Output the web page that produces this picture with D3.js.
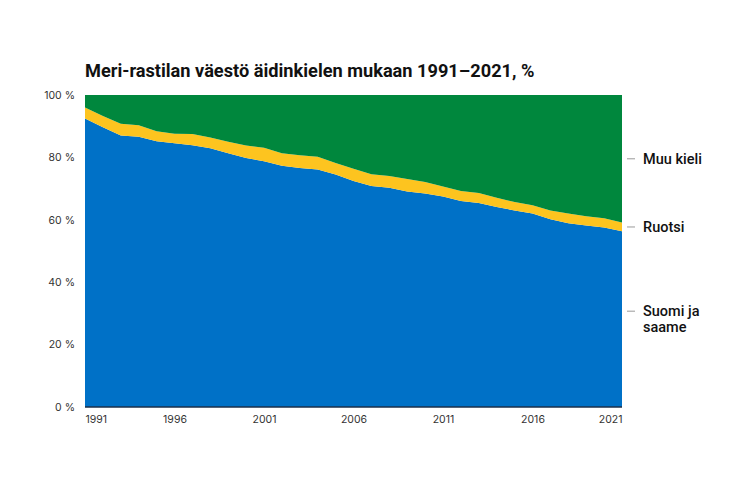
<!DOCTYPE html>
<html>
  <head>
    <meta charset="utf-8">
    <title>Meri-rastilan väestö äidinkielen mukaan</title>
    <script src="https://cdn.jsdelivr.net/npm/d3@7"></script>
    <style>
      body { margin: 0; background: #fff; font-family: "Inter", "Roboto", sans-serif; }
      #chart { display: block; }
      .title { font-family: "Roboto", sans-serif; font-size: 18.2px; font-weight: 700; fill: #111; }
      .axis text { font-size: 10.5px; fill: #333; font-family: "Inter", sans-serif; }
      .axis path, .axis line { display: none; }
      .baseline { stroke: #1b2f4a; stroke-width: 1.5; }
      .label text { font-family: "Roboto", sans-serif; font-size: 14.5px; font-weight: 500; fill: #111; }
      .label line { stroke: #999; stroke-width: 1; }
    </style>
  </head>

  <body>
    <svg id="chart" width="735" height="490"></svg>

    <script>
      // data (% of population)
      years = d3.range(1991, 2022);
      suomi = [92.5, 89.7, 87.0, 86.6, 85.2, 84.5, 83.9, 82.9, 81.3, 79.8,
               78.8, 77.3, 76.6, 76.1, 74.5, 72.4, 70.8, 70.3, 69.1, 68.4,
               67.5, 66.0, 65.4, 64.1, 63.0, 62.0, 60.2, 58.9, 58.2, 57.5, 56.3];
      ruotsi = [3.5, 3.6, 3.8, 3.7, 3.2, 3.1, 3.6, 3.5, 3.7, 4.0,
                4.3, 4.0, 4.1, 4.1, 3.7, 4.0, 3.8, 3.7, 4.0, 3.7,
                3.2, 3.2, 3.2, 3.0, 2.7, 2.7, 2.8, 3.1, 2.9, 3.0, 2.8];
      muu = [4.0, 6.7, 9.2, 9.7, 11.6, 12.4, 12.5, 13.6, 15.0, 16.2,
             16.9, 18.7, 19.3, 19.8, 21.8, 23.6, 25.4, 26.0, 26.9, 27.9,
             29.3, 30.8, 31.4, 32.9, 34.3, 35.3, 37.0, 38.0, 38.9, 39.5, 40.9];

      keys = ["suomi", "ruotsi", "muu"];
      labels = {
        suomi: ["Suomi ja", "saame"],
        ruotsi: ["Ruotsi"],
        muu: ["Muu kieli"]
      };
      colours = {
        suomi: "#0071c7",
        ruotsi: "#fdc41f",
        muu: "#00873d"
      };
      xTicks = [1991, 1996, 2001, 2006, 2011, 2016, 2021];
      yTicks = [0, 20, 40, 60, 80, 100];

      rows = years.map((year, i) => {
        return { year: year, suomi: suomi[i], ruotsi: ruotsi[i], muu: muu[i] };
      });

      // dimensions
      width = 735;
      height = 490;
      margin = { top: 95, right: 113, bottom: 83, left: 85 };
      lineHeight = 16;

      chart = d3.select("#chart");

      x = d3.scaleLinear()
        .domain(d3.extent(years))
        .range([margin.left, width - margin.right]);
      y = d3.scaleLinear()
        .domain([0, 100])
        .range([height - margin.bottom, margin.top]);

      series = d3.stack()
        .keys(keys)(rows);

      area = d3.area()
        .x(d => x(d.data.year))
        .y0(d => y(d[0]))
        .y1(d => y(d[1]));

      // title
      chart.append("text")
        .attr("class", "title")
        .attr("x", margin.left)
        .attr("y", 77)
        .text("Meri-rastilan väestö äidinkielen mukaan 1991–2021, %");

      // areas
      chart.append("g")
        .selectAll("path")
          .data(series)
        .enter().append("path")
          .attr("fill", d => colours[d.key])
          .attr("d", area);

      // baseline
      chart.append("line")
        .attr("class", "baseline")
        .attr("x1", margin.left)
        .attr("x2", width - margin.right)
        .attr("y1", y(0))
        .attr("y2", y(0));

      // axes
      yAxis = d3.axisLeft(y)
        .tickValues(yTicks)
        .tickSize(0)
        .tickPadding(10)
        .tickFormat(d => d + " %");
      chart.append("g")
        .attr("class", "axis")
        .attr("transform", "translate(" + margin.left + ", 0)")
        .call(yAxis);

      xAxis = d3.axisBottom(x)
        .tickValues(xTicks)
        .tickSize(0)
        .tickPadding(9)
        .tickFormat(d => d);
      xAxisGroup = chart.append("g")
        .attr("class", "axis")
        .attr("transform", "translate(0, " + y(0) + ")")
        .call(xAxis);
      xAxisGroup.selectAll("text")
        .attr("text-anchor", (d, i) => i == 0 ? "start" : i == xTicks.length - 1 ? "end" : "middle");

      // labels at the right end: text block centred on each band, tick on first line
      last = width - margin.right;
      labelGroups = chart.append("g")
        .selectAll(".label")
          .data(series)
        .enter().append("g")
          .attr("class", "label")
          .attr("transform", d => {
            let end = d[d.length - 1];
            let mid = y((end[0] + end[1]) / 2) - (labels[d.key].length - 1) * lineHeight / 2;
            return "translate(" + last + ", " + mid + ")";
          });

      labelGroups.append("line")
        .attr("x1", 5)
        .attr("x2", 13);

      labelGroups.append("text")
        .attr("x", 21)
        .attr("y", 0)
        .selectAll("tspan")
          .data(d => labels[d.key])
        .enter().append("tspan")
          .attr("x", 21)
          .attr("dy", (d, i) => i == 0 ? "0.35em" : lineHeight + "px")
          .text(d => d);
    </script>
  </body>
</html>
